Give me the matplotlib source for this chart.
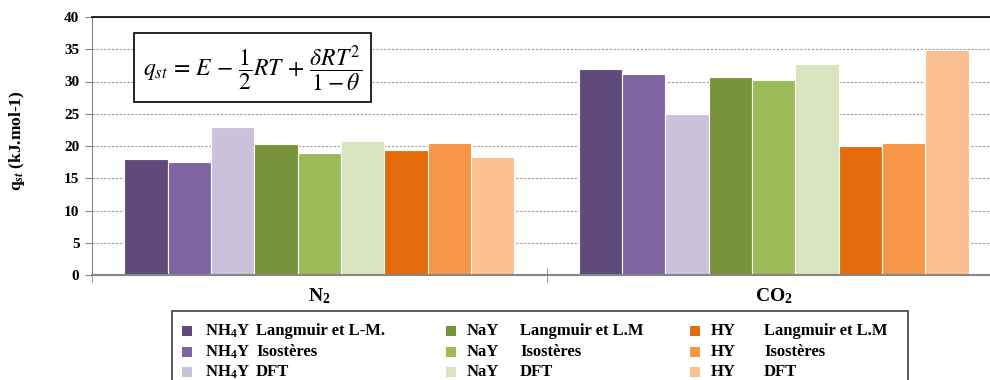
import numpy as np
import matplotlib.pyplot as plt
from matplotlib.patches import Rectangle

plt.rcParams['font.family'] = ['Liberation Serif', 'DejaVu Serif']
plt.rcParams['mathtext.fontset'] = 'custom'
plt.rcParams['mathtext.rm'] = 'Liberation Serif:bold'
plt.rcParams['mathtext.bf'] = 'Liberation Serif:bold'
plt.rcParams['mathtext.it'] = 'Liberation Serif:italic:bold'

# chaleurs isostériques d'adsorption (kJ/mol)
gaz = ['N$_2$', 'CO$_2$']
adsorbants = ['NH$_4$Y', 'NH$_4$Y', 'NH$_4$Y', 'NaY', 'NaY', 'NaY', 'HY', 'HY', 'HY']
methodes = ['Langmuir et L-M.', 'Isostères', 'DFT',
            'Langmuir et L.M', 'Isostères', 'DFT',
            'Langmuir et L.M', 'Isostères', 'DFT']
qst_n2 = [18.0, 17.5, 23.0, 20.3, 18.9, 20.8, 19.4, 20.5, 18.3]
qst_co2 = [32.0, 31.1, 25.0, 30.7, 30.2, 32.7, 20.0, 20.4, 34.9]
couleurs = ['#604A7B', '#8064A2', '#CCC1DA',
            '#77933C', '#9BBB59', '#D7E4BD',
            '#E46C0A', '#F79646', '#FAC090']

W, H = 990, 380


def px(x, y):
    # pixels -> coordonnées figure
    return x / W, 1 - y / H


fig = plt.figure(figsize=(W / 100, H / 100), dpi=100)
ax = fig.add_axes([92 / W, 1 - 275 / H, (1001 - 92) / W, (275 - 17) / H])

x = np.arange(len(gaz))
w = 0.858 / 9
for i in range(9):
    ax.bar(x + (i - 4) * w, [qst_n2[i], qst_co2[i]], w,
           color=couleurs[i], edgecolor='white', linewidth=0.8)

ax.set_xlim(-0.5, 1.5)
ax.set_ylim(0, 40)
ax.set_yticks(np.arange(0, 41, 5))
ax.set_axisbelow(True)
ax.yaxis.grid(True, color='#9a9a9a', linestyle=(0, (2, 1.5)), linewidth=0.8)

ax.set_xticks(x)
ax.set_xticklabels(gaz, fontsize=14, fontweight='bold')
for lbl in ax.get_xticklabels():
    lbl.set_bbox(dict(facecolor='white', edgecolor='none', pad=3))
for lbl in ax.get_yticklabels():
    lbl.set_fontweight('bold')
ax.set_xticks([-0.5, 0.5, 1.5], minor=True)
ax.tick_params(axis='x', which='major', length=0, pad=8)
ax.tick_params(axis='x', which='minor', length=10, direction='inout', color='#868686')
ax.tick_params(axis='y', length=5, color='#868686', labelsize=11, pad=4)

ax.spines['top'].set_color('black')
ax.spines['top'].set_linewidth(1.2)
ax.spines['right'].set_visible(False)
ax.spines['left'].set_color('#868686')
ax.spines['bottom'].set_color('#868686')
ax.spines['bottom'].set_linewidth(1.5)

ax.set_ylabel('q$_{st}$ (kJ.mol-1)', fontsize=12.5, fontweight='bold')
ax.yaxis.set_label_coords(-0.071, 0.52)

# encadré de l'équation
x0, y0 = px(134, 102)
x1, y1 = px(371, 33)
fig.add_artist(Rectangle((x0, y0), x1 - x0, y1 - y0, transform=fig.transFigure,
                         facecolor='white', edgecolor='black', linewidth=1.2))
fig.text(*px(252.5, 68),
         r'$q_{st}\,=\,E\,-\,\dfrac{1}{2}RT\,+\,\dfrac{\delta RT^2}{1-\theta}$',
         math_fontfamily='stix', fontsize=17, ha='center', va='center')

# légende
lx0, ly0 = px(172, 400)
lx1, ly1 = px(908, 311)
fig.add_artist(Rectangle((lx0, ly0), lx1 - lx0, ly1 - ly0, transform=fig.transFigure,
                         facecolor='none', edgecolor='#404040', linewidth=1.2, zorder=-1))
col_carre = [182, 446, 690]
col_nom = [205, 467, 711]
col_meth = [256, 520, 764]
lignes = [331, 352, 372]
for i in range(9):
    c, r = i // 3, i % 3
    cx, cy = px(col_carre[c], lignes[r] + 5)
    fig.add_artist(Rectangle((cx, cy), 10 / W, 10 / H, transform=fig.transFigure,
                             facecolor=couleurs[i], edgecolor='none'))
    fig.text(*px(col_nom[c], lignes[r]), adsorbants[i], fontsize=12,
             fontweight='bold', va='center')
    fig.text(*px(col_meth[c], lignes[r]), methodes[i], fontsize=12,
             fontweight='bold', va='center')

fig.savefig('out.png', dpi=100)
